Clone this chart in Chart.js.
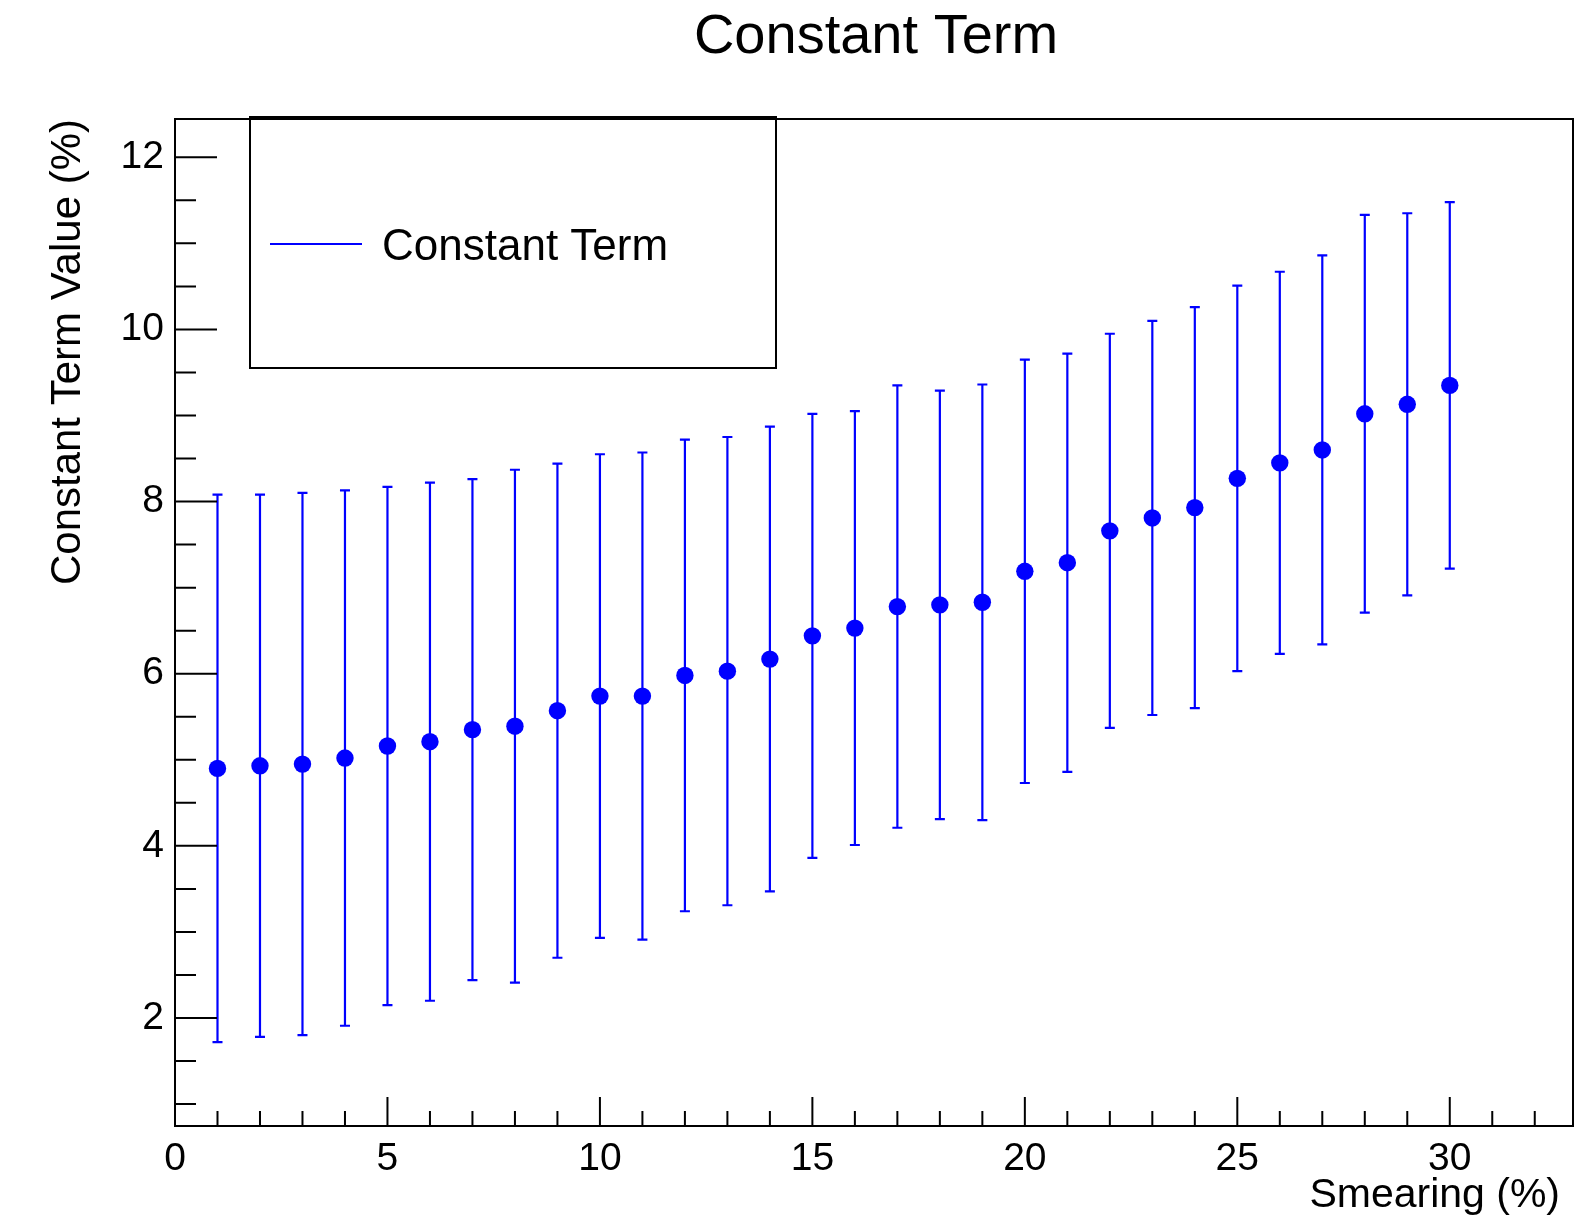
<!DOCTYPE html>
<html>
<head>
<meta charset="utf-8">
<title>Constant Term</title>
<script src="https://cdn.jsdelivr.net/npm/chart.js@4.4.0/dist/chart.umd.min.js"></script>
<style>
  html, body { margin: 0; padding: 0; background: #fff; }
  #wrap { width: 1593px; height: 1226px; }
</style>
</head>
<body>
<div id="wrap"><canvas id="constChart"></canvas></div>
<script>
// smearing (%) vs fitted constant term (%) with its error
var smearing = [1, 2, 3, 4, 5, 6, 7, 8, 9, 10, 11, 12, 13, 14, 15,
                16, 17, 18, 19, 20, 21, 22, 23, 24, 25, 26, 27, 28, 29, 30];
var constTerm = [4.90, 4.93, 4.95, 5.02, 5.16, 5.21, 5.35, 5.39, 5.57, 5.74,
                 5.74, 5.98, 6.03, 6.17, 6.44, 6.53, 6.78, 6.80, 6.83, 7.19,
                 7.29, 7.66, 7.81, 7.93, 8.27, 8.45, 8.60, 9.02, 9.13, 9.35];
var constErr = [3.18, 3.15, 3.15, 3.11, 3.01, 3.01, 2.91, 2.98, 2.87, 2.81,
                2.83, 2.74, 2.72, 2.70, 2.58, 2.52, 2.57, 2.49, 2.53, 2.46,
                2.43, 2.29, 2.29, 2.33, 2.24, 2.22, 2.26, 2.31, 2.22, 2.13];

var xTickValues = [0, 5, 10, 15, 20, 25, 30];
var yTickValues = [2, 4, 6, 8, 10, 12];
var xRange = [0, 32.9];
var yRange = [0.745, 12.445];

var FONT = "'Liberation Sans', Arial, Helvetica, sans-serif";
var BLUE = '#0000ff';

// error bars, frame, inward ticks, titles and the legend box
var rootStyle = {
  id: 'rootStyle',
  beforeDatasetsDraw: function(chart) {
    var ctx = chart.ctx;
    var xs = chart.scales.x;
    var ys = chart.scales.y;
    ctx.save();
    ctx.strokeStyle = BLUE;
    ctx.lineWidth = 2.2;
    for (var i = 0; i < smearing.length; i++) {
      var px = xs.getPixelForValue(smearing[i]);
      var top = ys.getPixelForValue(constTerm[i] + constErr[i]);
      var bot = ys.getPixelForValue(constTerm[i] - constErr[i]);
      ctx.beginPath();
      ctx.moveTo(px, top);
      ctx.lineTo(px, bot);
      ctx.moveTo(px - 5, top);
      ctx.lineTo(px + 5, top);
      ctx.moveTo(px - 5, bot);
      ctx.lineTo(px + 5, bot);
      ctx.stroke();
    }
    ctx.restore();
  },
  afterDraw: function(chart) {
    var ctx = chart.ctx;
    var area = chart.chartArea;
    var xs = chart.scales.x;
    var ys = chart.scales.y;
    ctx.save();
    ctx.strokeStyle = '#000';
    ctx.lineWidth = 2;
    ctx.strokeRect(area.left, area.top, area.right - area.left, area.bottom - area.top);

    ctx.beginPath();
    var v, p;
    for (v = 1; v <= 12.4; v += 0.5) {
      p = ys.getPixelForValue(v);
      var len = yTickValues.indexOf(v) >= 0 ? 42 : 21;
      ctx.moveTo(area.left, p);
      ctx.lineTo(area.left + len, p);
    }
    for (v = 1; v <= 32; v += 1) {
      p = xs.getPixelForValue(v);
      var xl = xTickValues.indexOf(v) >= 0 ? 29 : 15;
      ctx.moveTo(p, area.bottom);
      ctx.lineTo(p, area.bottom - xl);
    }
    ctx.stroke();

    ctx.fillStyle = '#000';
    ctx.textBaseline = 'middle';

    // main title
    ctx.textAlign = 'center';
    ctx.font = '56px ' + FONT;
    ctx.fillText('Constant Term', 876, 38);

    // x axis title, right aligned under the axis
    ctx.textAlign = 'right';
    ctx.font = '41px ' + FONT;
    ctx.fillText('Smearing (%)', area.right - 13, 1196);

    // legend
    ctx.lineWidth = 2;
    ctx.strokeRect(250, 117, 526, 251);
    ctx.strokeStyle = BLUE;
    ctx.beginPath();
    ctx.moveTo(270, 244);
    ctx.lineTo(362, 244);
    ctx.stroke();
    ctx.textAlign = 'left';
    ctx.font = '44px ' + FONT;
    ctx.fillText(chart.data.datasets[0].label, 382, 248);
    ctx.restore();
  }
};

var points = [];
for (var i = 0; i < smearing.length; i++) {
  points.push({ x: smearing[i], y: constTerm[i] });
}

new Chart(document.getElementById('constChart'), {
  type: 'scatter',
  data: {
    datasets: [{
      label: 'Constant Term',
      data: points,
      backgroundColor: BLUE,
      borderColor: BLUE,
      pointRadius: 8.7,
      pointBorderWidth: 0
    }]
  },
  options: {
    responsive: true,
    maintainAspectRatio: false,
    animation: false,
    layout: { padding: { left: 0, right: 20, top: 119, bottom: 0 } },
    plugins: {
      legend: { display: false },
      tooltip: { enabled: false },
      title: { display: false }
    },
    scales: {
      x: {
        type: 'linear',
        min: xRange[0],
        max: xRange[1],
        grid: { display: false, drawTicks: false },
        border: { display: false },
        ticks: {
          color: '#000',
          font: { family: FONT, size: 39 },
          padding: 10,
          maxRotation: 0
        },
        afterBuildTicks: function(scale) {
          scale.ticks = xTickValues.map(function(v) { return { value: v }; });
        },
        afterFit: function(scale) { scale.height = 100; }
      },
      y: {
        type: 'linear',
        min: yRange[0],
        max: yRange[1],
        grid: { display: false, drawTicks: false },
        border: { display: false },
        ticks: {
          color: '#000',
          font: { family: FONT, size: 39 },
          padding: 11
        },
        afterBuildTicks: function(scale) {
          scale.ticks = yTickValues.map(function(v) { return { value: v }; });
        },
        afterFit: function(scale) { scale.width = 175; },
        title: {
          display: true,
          text: 'Constant Term Value (%)',
          align: 'end',
          color: '#000',
          font: { family: FONT, size: 42 },
          padding: { top: 43, bottom: 0 }
        }
      }
    }
  },
  plugins: [rootStyle]
});
</script>
</body>
</html>
